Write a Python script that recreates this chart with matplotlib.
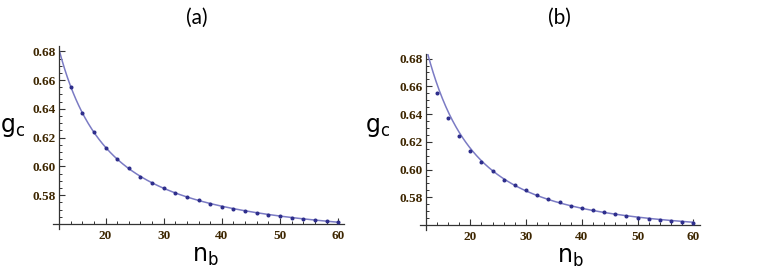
import numpy as np
import matplotlib
matplotlib.use("Agg")
import matplotlib.pyplot as plt
from matplotlib.ticker import MultipleLocator, FixedLocator

# ---- data ----
n_b = [14, 16, 18, 20, 22, 24, 26, 28, 30, 32, 34, 36, 38, 40, 42, 44, 46, 48,
       50, 52, 54, 56, 58, 60]
g_c = [0.6552, 0.6374, 0.6240, 0.6131, 0.6054, 0.5990, 0.5925, 0.5885, 0.5851,
       0.5818, 0.5789, 0.5767, 0.5740, 0.5719, 0.5705, 0.5691, 0.5677, 0.5664,
       0.5653, 0.5645, 0.5635, 0.5628, 0.5623, 0.5616]
curve_start_a = (12.0, 0.6815)   # where the fitted line meets the y axis in (a)
# line drawn in (b)
curve_b_n = [12.4, 14, 16, 18, 20, 22, 26, 30, 36, 40, 50, 60]
curve_b_g = [0.6822, 0.6630, 0.6424, 0.6263, 0.6145, 0.6060, 0.5930, 0.5853,
             0.5768, 0.5721, 0.5654, 0.5617]
x_ticks = [20, 30, 40, 50, 60]
y_ticks = [0.58, 0.60, 0.62, 0.64, 0.66, 0.68]
titles = ["(a)", "(b)"]

plt.rcParams['mathtext.fontset'] = 'custom'
plt.rcParams['mathtext.rm'] = 'Lato'

fig = plt.figure(figsize=(7.62, 2.74), dpi=100)

line_col = '#7b7bc4'
pt_col = '#2e2e8c'
lab_col = '#3d2600'

n = np.array(n_b, float)
g = np.array(g_c, float)

def fit_curve(xs, ys, deg, start):
    xs = np.asarray(xs, float)
    ys = np.asarray(ys, float)
    c = np.polyfit(1.0 / xs, ys, deg)
    xx = np.linspace(start, 60, 400)
    return xx, np.polyval(c, 1.0 / xx)

xa = np.concatenate([[curve_start_a[0]], n])
ya = np.concatenate([[curve_start_a[1]], g])

axes_rects = [[59/762, (274-224)/274, (344-59)/762, (224-46)/274],
              [425.7/762, (274-225)/274, (700-425.7)/762, (225-54)/274]]
ylims = [(0.56, 0.6837), (0.56, 0.6833)]
xlims = [(12, 61.0), (12, 61.2)]
curves = [fit_curve(xa, ya, 3, curve_start_a[0]),
          fit_curve(curve_b_n, curve_b_g, 3, curve_b_n[0])]

for i in range(2):
    ax = fig.add_axes(axes_rects[i])
    xx, yy = curves[i]
    ax.plot(xx, yy, color=line_col, lw=1.1, zorder=2)
    ax.plot(n, g, 'o', ms=1.9, color=pt_col, zorder=3)
    ax.set_xlim(*xlims[i])
    ax.set_ylim(*ylims[i])
    for s in ['top', 'right']:
        ax.spines[s].set_visible(False)
    for s in ['left', 'bottom']:
        ax.spines[s].set_color('#333333')
        ax.spines[s].set_linewidth(0.9)
    ax.spines['bottom'].set_bounds(xlims[i][0] - 1.0, xlims[i][1])
    ax.spines['left'].set_bounds(ylims[i][0] - 0.0035, ylims[i][1])
    ax.xaxis.set_major_locator(FixedLocator(x_ticks))
    ax.xaxis.set_minor_locator(MultipleLocator(2))
    ax.yaxis.set_major_locator(FixedLocator(y_ticks))
    ax.yaxis.set_minor_locator(MultipleLocator(0.005))
    ax.set_xticklabels([str(t) for t in x_ticks])
    ax.set_yticklabels(["%.2f" % t for t in y_ticks])
    ax.tick_params(which='major', direction='in', length=4, width=0.8, color='#333333',
                   labelsize=9.5, labelcolor=lab_col, pad=2)
    ax.tick_params(which='minor', direction='in', length=2.3, width=0.7, color='#333333')
    ax.tick_params(axis='x', which='major', pad=4)
    for lab in ax.get_xticklabels() + ax.get_yticklabels():
        lab.set_fontfamily('Liberation Serif')
        lab.set_fontweight('bold')
    ax.patch.set_visible(False)

# titles and axis labels
fig.text(197/762, 1 - 18/274, titles[0], ha='center', va='center', fontsize=15,
         family='Lato', color='black')
fig.text(559/762, 1 - 18/274, titles[1], ha='center', va='center', fontsize=15,
         family='Lato', color='black')
fig.text(13/762, 1 - 127/274, r'$\mathregular{g_c}$', ha='center', va='center',
         fontsize=17, color='black')
fig.text(378/762, 1 - 127/274, r'$\mathregular{g_c}$', ha='center', va='center',
         fontsize=17, color='black')
fig.text(205/762, 1 - 256/274, r'$\mathregular{n_b}$', ha='center', va='center',
         fontsize=17, color='black')
fig.text(570/762, 1 - 257/274, r'$\mathregular{n_b}$', ha='center', va='center',
         fontsize=17, color='black')

fig.savefig('out.png', dpi=100)
